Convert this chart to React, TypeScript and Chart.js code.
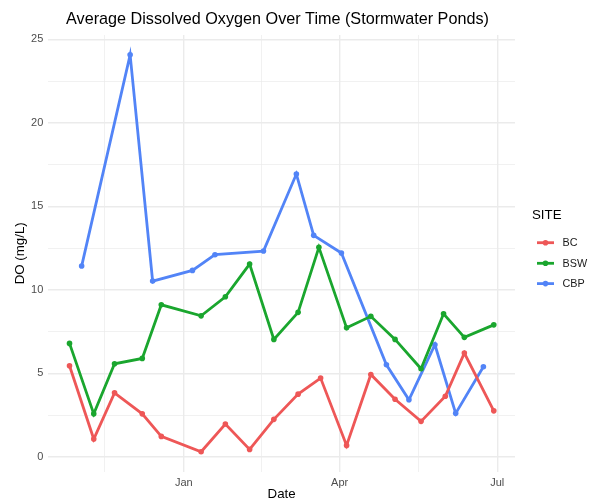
import React, { useEffect, useRef } from 'react';
import { Chart, registerables } from 'chart.js';

Chart.register(...registerables);

const TITLE = 'Average Dissolved Oxygen Over Time (Stormwater Ponds)';
const X_TITLE = 'Date';
const Y_TITLE = 'DO (mg/L)';
const LEGEND_TITLE = 'SITE';

const SITES = ['BC', 'BSW', 'CBP'];
const COLORS = ['#EE5757', '#1AA62E', '#5284F7'];

const bcDates = ['2022-10-27', '2022-11-10', '2022-11-22', '2022-12-08', '2022-12-19', '2023-01-11', '2023-01-25', '2023-02-08', '2023-02-22', '2023-03-08', '2023-03-21', '2023-04-05', '2023-04-19', '2023-05-03', '2023-05-18', '2023-06-01', '2023-06-12', '2023-06-29'];
const bcValues = [5.45, 1.06, 3.83, 2.57, 1.22, 0.3, 1.96, 0.44, 2.24, 3.75, 4.71, 0.68, 4.93, 3.44, 2.12, 3.62, 6.21, 2.75];

const bswDates = ['2022-10-27', '2022-11-10', '2022-11-22', '2022-12-08', '2022-12-19', '2023-01-11', '2023-01-25', '2023-02-08', '2023-02-22', '2023-03-08', '2023-03-20', '2023-04-05', '2023-04-19', '2023-05-03', '2023-05-18', '2023-05-31', '2023-06-12', '2023-06-29'];
const bswValues = [6.79, 2.57, 5.57, 5.89, 9.1, 8.44, 9.58, 11.54, 7.03, 8.65, 12.54, 7.72, 8.41, 7.03, 5.27, 8.56, 7.15, 7.9];

const cbpDates = ['2022-11-03', '2022-12-01', '2022-12-14', '2023-01-06', '2023-01-19', '2023-02-16', '2023-03-07', '2023-03-17', '2023-04-02', '2023-04-28', '2023-05-11', '2023-05-26', '2023-06-07', '2023-06-23'];
const cbpValues = [11.42, 24.07, 10.52, 11.16, 12.1, 12.32, 16.93, 13.26, 12.2, 5.51, 3.41, 6.71, 2.6, 5.39];

const X_TICK_DATES = ['2023-01-01', '2023-04-01', '2023-07-01'];
const X_TICK_LABELS = ['Jan', 'Apr', 'Jul'];
const X_MINOR_DATES = ['2022-11-16', '2023-02-15', '2023-05-16T12:00:00Z'];
const Y_TICKS = [0, 5, 10, 15, 20, 25];
const Y_MINOR_TICKS = [2.5, 7.5, 12.5, 17.5, 22.5];

const FONT = '"Liberation Sans", Arial, Helvetica, sans-serif';
const ORIGIN = Date.parse('2023-01-01');
const toDay = (d: string) => (Date.parse(d) - ORIGIN) / 86400000;

const allDates = [...bcDates, ...bswDates, ...cbpDates].map(toDay);
const allValues = [...bcValues, ...bswValues, ...cbpValues];
const xLo = Math.min(...allDates), xHi = Math.max(...allDates);
const yLo = Math.min(...allValues), yHi = Math.max(...allValues);
const X_MIN = xLo - (xHi - xLo) * 0.05;
const X_MAX = xHi + (xHi - xLo) * 0.05;
const Y_MIN = yLo - (yHi - yLo) * 0.05;
const Y_MAX = yHi + (yHi - yLo) * 0.05;

const xMajor = X_TICK_DATES.map(toDay);
const xMinor = X_MINOR_DATES.map(toDay);

const textPlugin = {
  id: 'ggText',
  afterDraw(chart: any) {
    const ctx = chart.ctx;
    const a = chart.chartArea;
    const cx = (a.left + a.right) / 2;
    ctx.save();
    ctx.fillStyle = '#000';
    ctx.textAlign = 'center';
    ctx.textBaseline = 'middle';
    ctx.font = `16.2px ${FONT}`;
    ctx.fillText(TITLE, 277.5, 19.5);
    ctx.font = `13.3px ${FONT}`;
    ctx.fillText(X_TITLE, cx, 494.5);
    ctx.save();
    ctx.translate(20, (a.top + a.bottom) / 2);
    ctx.rotate(-Math.PI / 2);
    ctx.fillText(Y_TITLE, 0, 0);
    ctx.restore();
    // legend
    ctx.textAlign = 'left';
    ctx.textBaseline = 'alphabetic';
    ctx.font = `13.3px ${FONT}`;
    ctx.fillText(LEGEND_TITLE, 532, 219);
    const ys = [242.7, 263.3, 283.6];
    ctx.font = `10.8px ${FONT}`;
    ctx.textBaseline = 'middle';
    SITES.forEach((s, i) => {
      const y = ys[i];
      ctx.strokeStyle = COLORS[i];
      ctx.lineWidth = 2.8;
      ctx.beginPath();
      ctx.moveTo(537, y);
      ctx.lineTo(554, y);
      ctx.stroke();
      ctx.fillStyle = COLORS[i];
      ctx.beginPath();
      ctx.arc(545.5, y, 2.8, 0, Math.PI * 2);
      ctx.fill();
      ctx.fillStyle = '#1a1a1a';
      ctx.fillText(s, 562.5, y + 0.5);
    });
    ctx.restore();
  },
};

export default function App() {
  const ref = useRef<HTMLCanvasElement | null>(null);
  useEffect(() => {
    document.body.style.margin = '0';
    const canvas = ref.current;
    if (!canvas) return;
    const mk = (dates: string[], vals: number[]) => dates.map((d, i) => ({ x: toDay(d), y: vals[i] }));
    const series = [mk(bcDates, bcValues), mk(bswDates, bswValues), mk(cbpDates, cbpValues)];
    const chart = new Chart(canvas, {
      type: 'line',
      data: {
        datasets: SITES.map((s, i) => ({
          label: s,
          data: series[i],
          borderColor: COLORS[i],
          backgroundColor: COLORS[i],
          borderWidth: 2.8,
          pointRadius: 2.8,
          pointBorderWidth: 0,
          pointHoverRadius: 2.8,
          tension: 0,
          fill: false,
        })),
      },
      options: {
        responsive: false,
        animation: false,
        events: [],
        layout: { padding: { left: 0, right: 80, top: 35, bottom: 0 } },
        plugins: { legend: { display: false }, title: { display: false }, tooltip: { enabled: false } },
        scales: {
          x: {
            type: 'linear',
            min: X_MIN,
            max: X_MAX,
            afterBuildTicks: (s: any) => {
              s.ticks = [...xMinor, ...xMajor].sort((p, q) => p - q).map((v) => ({ value: v }));
            },
            afterFit: (s: any) => {
              s.height = 30.4;
            },
            border: { display: false },
            grid: {
              drawTicks: false,
              color: '#EBEBEB',
              lineWidth: (c: any) => (xMajor.includes(c.tick?.value) ? 1.4 : 0.7),
            },
            ticks: {
              autoSkip: false,
              maxRotation: 0,
              padding: 4.5,
              color: '#4D4D4D',
              font: { family: FONT, size: 11 },
              callback: (v: any) => {
                const idx = xMajor.indexOf(v);
                return idx >= 0 ? X_TICK_LABELS[idx] : '';
              },
            },
          },
          y: {
            type: 'linear',
            min: Y_MIN,
            max: Y_MAX,
            afterBuildTicks: (s: any) => {
              s.ticks = [...Y_MINOR_TICKS, ...Y_TICKS].sort((p, q) => p - q).map((v) => ({ value: v }));
            },
            afterFit: (s: any) => {
              s.width = 48.3;
            },
            border: { display: false },
            grid: {
              drawTicks: false,
              color: '#EBEBEB',
              lineWidth: (c: any) => (Y_TICKS.includes(c.tick?.value) ? 1.4 : 0.7),
            },
            ticks: {
              padding: 5,
              color: '#4D4D4D',
              font: { family: FONT, size: 11 },
              callback: (v: any) => (Y_TICKS.includes(v) ? String(v) : ''),
            },
          },
        },
      },
      plugins: [textPlugin],
    });
    return () => chart.destroy();
  }, []);
  return (
    <div style={{ width: 595, height: 502 }}>
      <canvas ref={ref} width={595} height={502} style={{ display: 'block', width: 595, height: 502 }} />
    </div>
  );
}
